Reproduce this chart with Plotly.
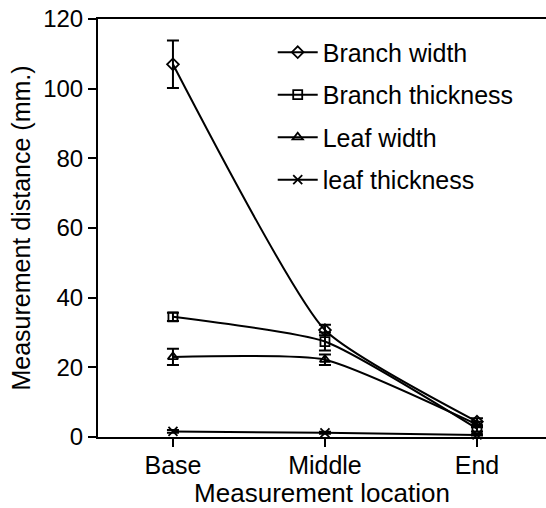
import plotly.graph_objects as go

locations = ["Base", "Middle", "End"]
branch_width = [107.0, 30.7, 4.4]
branch_width_err = [6.8, 1.5, 1.0]
branch_thickness = [34.5, 27.4, 2.4]
branch_thickness_err = [1.2, 2.6, 0.8]
leaf_width = [23.0, 22.2, 3.6]
leaf_width_err = [2.3, 1.5, 0.8]
leaf_thickness = [1.6, 1.2, 0.6]
leaf_thickness_err = [0.4, 0.3, 0.2]
y_ticks = [0, 20, 40, 60, 80, 100, 120]

series = [
    ("Branch width", branch_width, branch_width_err, "diamond-open"),
    ("Branch thickness", branch_thickness, branch_thickness_err, "square-open"),
    ("Leaf width", leaf_width, leaf_width_err, "triangle-up-open"),
    ("leaf thickness", leaf_thickness, leaf_thickness_err, "x-thin-open"),
]

FONT = "Liberation Sans, Arial, sans-serif"
fig = go.Figure()
for i, (name, vals, errs, sym) in enumerate(series):
    fig.add_trace(go.Scatter(
        x=[0, 1, 2], y=vals, name=name, legendgroup=f"g{i}",
        mode="lines+markers",
        line=dict(color="black", width=2, shape="spline", smoothing=0.5),
        marker=dict(symbol=sym, size=9, color="black",
                    line=dict(color="black", width=1.8)),
        error_y=dict(type="data", array=errs, visible=True, color="black",
                     thickness=2, width=6),
        cliponaxis=False,
    ))

fig.update_layout(
    width=546, height=508,
    margin=dict(l=98, r=0, t=19, b=71),
    paper_bgcolor="white", plot_bgcolor="white",
    font=dict(family=FONT, size=24, color="black"),
    showlegend=True,
    legend=dict(x=0.39, y=0.975, xanchor="left", yanchor="top",
                bgcolor="rgba(0,0,0,0)", font=dict(size=25, family=FONT),
                traceorder="grouped", tracegroupgap=7, itemwidth=40),
    xaxis=dict(
        range=[-0.493, 2.454], tickmode="array", tickvals=[0, 1, 2],
        ticktext=locations, showline=True, linecolor="black", linewidth=2,
        mirror=True, ticks="outside", ticklen=8, tickwidth=2, tickcolor="black",
        showgrid=False, zeroline=False, ticklabelstandoff=-3,
        title=dict(text="Measurement location", font=dict(size=26), standoff=2),
        tickfont=dict(size=25),
    ),
    yaxis=dict(
        range=[0, 120], tickvals=y_ticks, showline=True, linecolor="black",
        linewidth=2, ticks="outside", ticklen=8, tickwidth=2, tickcolor="black",
        showgrid=False, zeroline=False,
        title=dict(text="Measurement distance (mm.)", font=dict(size=25), standoff=5),
        tickfont=dict(size=24),
    ),
)

fig.write_html("out.html")
